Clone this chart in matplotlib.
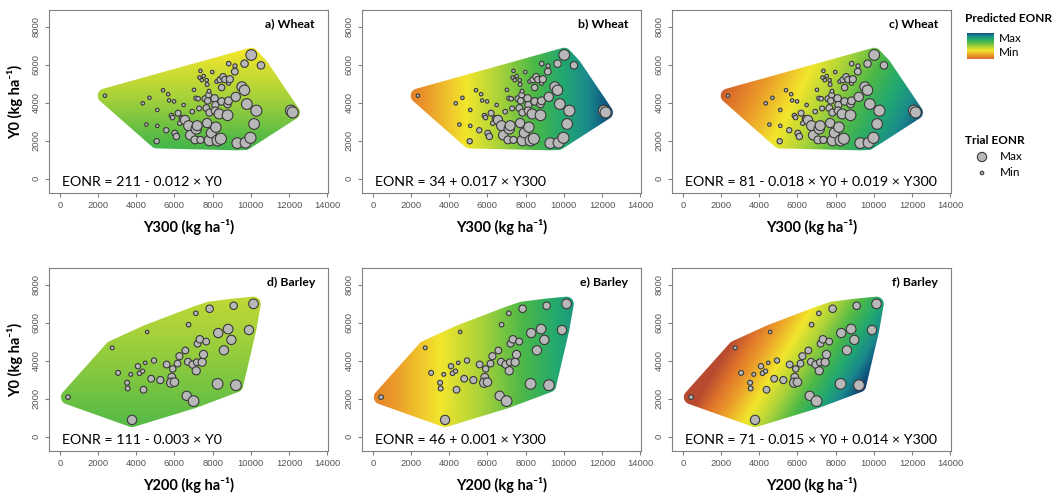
import matplotlib
matplotlib.use("Agg")
import matplotlib.pyplot as plt
import numpy as np
from matplotlib.colors import LinearSegmentedColormap
from matplotlib.patches import Polygon

# wheat trials: yield with 300 kg N (x), yield with no N (y), trial EONR (circle size)
wheat_y300 = [2360, 4340, 4690, 5400, 5670, 5720, 5100, 5980, 4530, 5100,
              5070, 5570, 5840, 5900, 6020, 6100, 6480, 6400, 6280, 6550,
              6740, 6930, 6830, 7070, 7140, 7190, 7020, 7120, 7240, 7290,
              7360, 7310, 7430, 7530, 7690, 7710, 7980, 7600, 7790, 7710,
              7740, 7810, 7670, 7830, 7840, 7930, 8100, 8140, 8120, 8170,
              8260, 8430, 8210, 8380, 8550, 8640, 8470, 8470, 8340, 8780,
              8780, 8830, 8830, 8900, 8840, 9170, 9160, 9210, 9290, 9670,
              9530, 9670, 9790, 9720, 9980, 10020, 10170, 10290, 10530, 12100,
              12190, 7360, 6190]
wheat_y0 = [4370, 3970, 4260, 4660, 4450, 4120, 3620, 4070, 2850, 2780,
            1970, 2550, 3320, 3220, 2390, 2220, 3880, 3160, 2920, 3090,
            2790, 3530, 2290, 2040, 2620, 2790, 4680, 4240, 4210, 3700,
            5680, 5330, 5190, 5410, 5190, 4960, 5620, 4210, 4400, 2930,
            4100, 4610, 3720, 3480, 2010, 2410, 4230, 3880, 3580, 2710,
            2010, 2100, 5120, 5210, 5360, 5220, 4800, 4070, 3410, 3340,
            3930, 4100, 5030, 5240, 6060, 5940, 5640, 4310, 1870, 6060,
            4840, 4660, 3930, 1890, 2150, 6520, 2880, 3580, 5970, 3580,
            3490, 2040, 3450]
wheat_eonr = [40, 40, 40, 40, 40, 40, 40, 40, 40, 40,
              90, 90, 70, 70, 110, 120, 40, 110, 70, 200,
              220, 70, 210, 160, 230, 220, 40, 60, 70, 80,
              40, 40, 40, 40, 40, 50, 40, 110, 110, 200,
              120, 50, 130, 140, 240, 220, 150, 140, 150, 230,
              250, 250, 50, 110, 130, 120, 120, 150, 220, 240,
              150, 160, 60, 140, 70, 60, 130, 200, 240, 150,
              220, 230, 240, 240, 250, 240, 240, 250, 150, 250,
              250, 140, 110]

# barley trials: yield with 200 kg N (x), yield with no N (y), trial EONR
barley_y200 = [430, 2740, 3050, 3520, 3550, 3710, 3780, 4090, 4170, 4330,
               4470, 4380, 4570, 4780, 4930, 5260, 5590, 5910, 5860, 5830,
               6000, 6160, 6260, 6740, 6570, 6640, 6710, 7000, 6950, 7120,
               7140, 7170, 7210, 7330, 7450, 7520, 7660, 7840, 8260, 8290,
               8590, 8810, 8980, 9100, 9220, 9900, 10140]
barley_y0 = [2080, 4680, 3360, 2840, 2540, 3280, 880, 3710, 3340, 3450,
             3890, 2470, 5520, 3050, 4010, 2980, 3800, 3570, 3130, 2840,
             2870, 3850, 4240, 5900, 4540, 2150, 3940, 1870, 3800, 6500,
             3470, 3920, 4900, 5130, 3920, 4330, 5010, 6740, 2780, 5460,
             4550, 5670, 5100, 6900, 2710, 5620, 7000]
barley_eonr = [70, 50, 80, 80, 80, 50, 200, 90, 70, 60,
               40, 130, 40, 130, 90, 140, 130, 120, 160, 200,
               180, 130, 140, 70, 130, 200, 140, 240, 150, 70,
               170, 130, 130, 150, 170, 170, 130, 150, 240, 200,
               200, 210, 200, 150, 240, 200, 210]

titles = ["a) Wheat", "b) Wheat", "c) Wheat", "d) Barley", "e) Barley", "f) Barley"]
equations = ["EONR = 211 - 0.012 \u00d7 Y0",
             "EONR = 34 + 0.017 \u00d7 Y300",
             "EONR = 81 - 0.018 \u00d7 Y0 + 0.019 \u00d7 Y300",
             "EONR = 111 - 0.003 \u00d7 Y0",
             "EONR = 46 + 0.001 \u00d7 Y300",
             "EONR = 71 - 0.015 \u00d7 Y0 + 0.014 \u00d7 Y300"]
xlabels = ["Y300 (kg ha\u207b\u00b9)"] * 3 + ["Y200 (kg ha\u207b\u00b9)"] * 3
# predicted EONR surface as position on the colour scale: c0 + cx*x + cy*y (x, y in t/ha)
fill_c0 = [0.765, 0.0, 0.08, 0.66, 0.15, 0.05]
fill_cx = [0.0, 0.078, 0.08, 0.0, 0.065, 0.118]
fill_cy = [-0.0566, 0.0, -0.04, -0.025, 0.0, -0.069]

cmap = LinearSegmentedColormap.from_list("eonr", [
    (0.00, "#b84a30"), (0.12, "#e0762a"), (0.22, "#eb9a2a"), (0.38, "#f2e62c"),
    (0.52, "#a8d23a"), (0.66, "#4cb848"), (0.78, "#22a870"), (0.88, "#1a8a8c"),
    (1.00, "#0b3a78")])

FONT = ["Lato", "DejaVu Sans"]
XLIM = (-570, 14040)
YLIM = (-760, 8890)


def hull(pts):
    pts = sorted(set(map(tuple, pts)))
    def cross(o, a, b):
        return (a[0] - o[0]) * (b[1] - o[1]) - (a[1] - o[1]) * (b[0] - o[0])
    lower, upper = [], []
    for p in pts:
        while len(lower) >= 2 and cross(lower[-2], lower[-1], p) <= 0:
            lower.pop()
        lower.append(p)
    for p in reversed(pts):
        while len(upper) >= 2 and cross(upper[-2], upper[-1], p) <= 0:
            upper.pop()
        upper.append(p)
    return lower[:-1] + upper[:-1]


def rounded_hull(x, y, r=380):
    h = hull(np.column_stack([x, y]))
    ang = np.linspace(0, 2 * np.pi, 40, endpoint=False)
    ring = [(px + r * np.cos(a), py + r * np.sin(a)) for px, py in h for a in ang]
    return np.array(hull(ring))


def marker_size(e):
    d_px = 3.5 + (np.asarray(e) - 40) / 210 * 7.6
    return (d_px * 0.72) ** 2


fig = plt.figure(figsize=(10.56, 4.95), dpi=100)
lefts = [49, 362, 672]
tops = [10, 268]
W, H = 279, 183

gx = np.linspace(XLIM[0], XLIM[1], 400)
gy = np.linspace(YLIM[0], YLIM[1], 300)
GX, GY = np.meshgrid(gx, gy)

for i in range(6):
    row, col = divmod(i, 3)
    ax = fig.add_axes([lefts[col] / 1056, 1 - (tops[row] + H) / 495, W / 1056, H / 495])
    if row == 0:
        xs, ys, es = wheat_y300, wheat_y0, wheat_eonr
    else:
        xs, ys, es = barley_y200, barley_y0, barley_eonr

    t = fill_c0[i] + fill_cx[i] * GX / 1000 + fill_cy[i] * GY / 1000
    im = ax.imshow(np.clip(t, 0, 1), cmap=cmap, vmin=0, vmax=1, origin="lower",
                   extent=[XLIM[0], XLIM[1], YLIM[0], YLIM[1]], aspect="auto",
                   interpolation="bilinear", zorder=1)
    poly = Polygon(rounded_hull(xs, ys), closed=True, facecolor="none", edgecolor="none")
    ax.add_patch(poly)
    im.set_clip_path(poly)

    ax.scatter(xs, ys, s=marker_size(es), facecolor="#b8b8b8", edgecolor="#3a3a3a",
               linewidth=0.8, zorder=3)

    ax.set_xlim(XLIM)
    ax.set_ylim(YLIM)
    ax.set_xticks(np.arange(0, 14001, 2000))
    ax.set_yticks(np.arange(0, 8001, 2000))
    for sp in ax.spines.values():
        sp.set_color("#808080")
        sp.set_linewidth(0.8)
    ax.tick_params(colors="#808080", labelcolor="#555555", length=3, width=0.8,
                   labelsize=6.8, pad=3)
    ax.tick_params(axis="y", labelrotation=90)
    for lab in ax.get_xticklabels() + ax.get_yticklabels():
        lab.set_family("Liberation Sans")
    for lab in ax.get_yticklabels():
        lab.set_va("center")

    ax.text(0.953, 0.923, titles[i], transform=ax.transAxes, ha="right", va="center",
            fontsize=8.8, fontweight="bold", family=FONT, zorder=5)
    ax.text(0.045, 0.06, equations[i], transform=ax.transAxes, ha="left", va="center",
            fontsize=10.2, family=FONT, zorder=5)
    ax.set_xlabel(xlabels[i], fontsize=10.5, fontweight="bold", family=FONT, labelpad=6)
    if col == 0:
        ax.set_ylabel("Y0 (kg ha\u207b\u00b9)", fontsize=10.5, fontweight="bold",
                      family=FONT, labelpad=6)

# legend on the right
fig.text(965 / 1056, 1 - 19 / 495, "Predicted EONR", fontsize=8.5, fontweight="bold",
         family=FONT, va="center", ha="left")
cax = fig.add_axes([967 / 1056, 1 - 59 / 495, 26 / 1056, 26 / 495])
cax.imshow(np.linspace(0.1, 0.96, 50)[:, None], cmap=cmap, vmin=0, vmax=1,
           origin="lower", aspect="auto", extent=[0, 1, 0, 1])
cax.set_axis_off()
fig.text(999 / 1056, 1 - 39 / 495, "Max", fontsize=8.5, family=FONT, va="center")
fig.text(999 / 1056, 1 - 53 / 495, "Min", fontsize=8.5, family=FONT, va="center")

fig.text(965 / 1056, 1 - 140 / 495, "Trial EONR", fontsize=8.5, fontweight="bold",
         family=FONT, va="center", ha="left")
lax = fig.add_axes([0, 0, 1, 1])
lax.set_xlim(0, 1056)
lax.set_ylim(495, 0)
lax.set_axis_off()
lax.scatter([982, 982], [157, 173], s=marker_size([200, 40]), facecolor="#b8b8b8",
            edgecolor="#3a3a3a", linewidth=0.8)
fig.text(1000 / 1056, 1 - 157 / 495, "Max", fontsize=8.5, family=FONT, va="center")
fig.text(1000 / 1056, 1 - 173 / 495, "Min", fontsize=8.5, family=FONT, va="center")

fig.savefig("out.png", dpi=100)
